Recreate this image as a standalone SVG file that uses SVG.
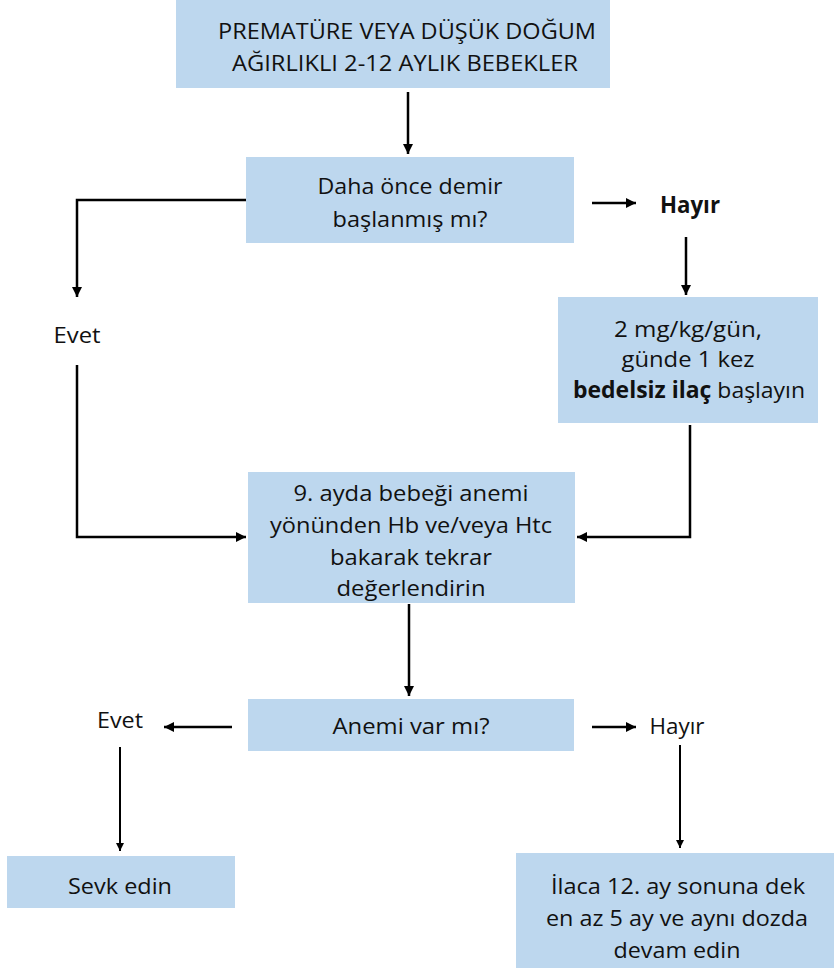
<svg xmlns="http://www.w3.org/2000/svg" width="834" height="968" viewBox="0 0 834 968">
  <defs>
    <marker id="ah" viewBox="0 0 10 10" refX="10" refY="5" markerWidth="4" markerHeight="4" orient="auto" markerUnits="strokeWidth">
      <path d="M0,0 L10,5 L0,10 z" fill="#000"/>
    </marker>
    <style>
      .box { fill: #BDD7EE; }
      .t { font-family: "Open Sans", Lato, "Liberation Sans", sans-serif; font-size: 22.5px; fill: #111; text-anchor: middle; }
      .b { font-weight: bold; }
      .c { fill: none; stroke: #000; stroke-width: 2.5; marker-end: url(#ah); }
    </style>
  </defs>
  <rect width="834" height="968" fill="#fff"/>

  <g id="connectors">
    <path class="c" d="M408,92 V154"/>
    <path class="c" d="M246,200 H77 V297"/>
    <path class="c" d="M592,203 H636"/>
    <path class="c" d="M686,237 V295"/>
    <path class="c" d="M77,365 V537 H246"/>
    <path class="c" d="M690,425 V537 H577"/>
    <path class="c" d="M409,604 V696"/>
    <path class="c" d="M232,727 H164"/>
    <path class="c" d="M592,727 H636"/>
    <path class="c" d="M120,747 V851" style="stroke-width:2"/>
    <path class="c" d="M680,745 V848" style="stroke-width:2"/>
  </g>

  <g id="start">
    <rect class="box" x="176" y="0" width="434" height="88"/>
    <text class="t" x="407" y="39" textLength="378" lengthAdjust="spacingAndGlyphs">PREMATÜRE VEYA DÜŞÜK DOĞUM</text>
    <text class="t" x="405" y="71" textLength="346" lengthAdjust="spacingAndGlyphs">AĞIRLIKLI 2-12 AYLIK BEBEKLER</text>
  </g>

  <g id="q-iron">
    <rect class="box" x="246" y="157" width="328" height="86"/>
    <text class="t" x="410" y="194" textLength="185" lengthAdjust="spacingAndGlyphs">Daha önce demir</text>
    <text class="t" x="410" y="227" textLength="155" lengthAdjust="spacingAndGlyphs">başlanmış mı?</text>
  </g>

  <g id="no-1">
    <text class="t b" x="690" y="213" textLength="60" lengthAdjust="spacingAndGlyphs">Hayır</text>
  </g>

  <g id="yes-1">
    <text class="t" x="77" y="343" textLength="47" lengthAdjust="spacingAndGlyphs">Evet</text>
  </g>

  <g id="start-drug">
    <rect class="box" x="558" y="297" width="260" height="126"/>
    <text class="t" x="688" y="337" textLength="148" lengthAdjust="spacingAndGlyphs">2 mg/kg/gün,</text>
    <text class="t" x="688" y="367" textLength="133" lengthAdjust="spacingAndGlyphs">günde 1 kez</text>
    <text class="t" x="689" y="398" textLength="232" lengthAdjust="spacingAndGlyphs"><tspan class="b">bedelsiz ilaç</tspan> başlayın</text>
  </g>

  <g id="recheck">
    <rect class="box" x="248" y="472" width="327" height="131"/>
    <text class="t" x="411" y="501" textLength="235" lengthAdjust="spacingAndGlyphs">9. ayda bebeği anemi</text>
    <text class="t" x="411" y="533" textLength="282" lengthAdjust="spacingAndGlyphs">yönünden Hb ve/veya Htc</text>
    <text class="t" x="411" y="565" textLength="162" lengthAdjust="spacingAndGlyphs">bakarak tekrar</text>
    <text class="t" x="411" y="596" textLength="149" lengthAdjust="spacingAndGlyphs">değerlendirin</text>
  </g>

  <g id="q-anemia">
    <rect class="box" x="248" y="699" width="326" height="52"/>
    <text class="t" x="411" y="734" textLength="157" lengthAdjust="spacingAndGlyphs">Anemi var mı?</text>
  </g>

  <g id="yes-2">
    <text class="t" x="120" y="728" textLength="46" lengthAdjust="spacingAndGlyphs">Evet</text>
  </g>

  <g id="no-2">
    <text class="t" x="677" y="734" textLength="55" lengthAdjust="spacingAndGlyphs">Hayır</text>
  </g>

  <g id="refer">
    <rect class="box" x="7" y="856" width="228" height="52"/>
    <text class="t" x="120" y="894" textLength="104" lengthAdjust="spacingAndGlyphs">Sevk edin</text>
  </g>

  <g id="continue">
    <rect class="box" x="516" y="853" width="318" height="115"/>
    <text class="t" x="678" y="894" textLength="254" lengthAdjust="spacingAndGlyphs">İlaca 12. ay sonuna dek</text>
    <text class="t" x="677" y="926" textLength="262" lengthAdjust="spacingAndGlyphs">en az 5 ay ve aynı dozda</text>
    <text class="t" x="677" y="958" textLength="127" lengthAdjust="spacingAndGlyphs">devam edin</text>
  </g>
</svg>
